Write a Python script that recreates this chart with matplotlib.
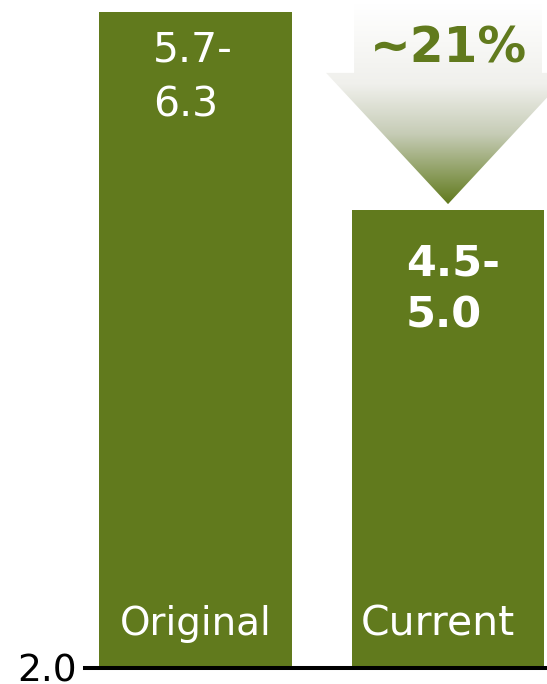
import numpy as np
import matplotlib
matplotlib.use("Agg")
import matplotlib.pyplot as plt
from matplotlib.patches import Polygon
from matplotlib.colors import LinearSegmentedColormap

# Data
categories = ["Original", "Current"]
range_low = [5.7, 4.5]
range_high = [6.3, 5.0]
baseline = 2.0
change_label = "~21%"

green = "#617a1d"
plt.rcParams["font.family"] = ["DejaVu Sans"]

fig = plt.figure(figsize=(5.47, 6.84), dpi=100)
ax = fig.add_axes([85 / 547, 16 / 684, 462 / 547, 668 / 684])

x = np.arange(len(categories))
bar_w = 0.764
ax.bar(x, np.array(range_high) - baseline, bottom=baseline, width=bar_w,
       color=green, zorder=2)

# range labels inside the bars
for i in range(len(categories)):
    txt = f"{range_low[i]:.1f}-\n{range_high[i]:.1f}"
    bold = i == 1
    ax.text(x[i] + (0.02 if bold else -0.01), range_high[i] - (0.21 if bold else 0.12), txt,
            ha="center", va="top", multialignment="left", color="white",
            fontsize=31 if bold else 29.5,
            fontweight="bold" if bold else "normal",
            linespacing=1.32 if bold else 1.5, zorder=4)
    ax.text(x[i] - (0.04 if i == 1 else 0), baseline + 0.216, categories[i],
            ha="center", va="baseline", color="white",
            fontsize=28 if i == 0 else 29.5, zorder=4)

# gradient arrow above the current bar
cx = x[1]
tip_y = range_high[1] + 0.04
head_y = range_high[1] + 0.90
shaft_top = range_high[1] + 1.35
head_hw = 0.483
shaft_hw = 0.372
arrow = Polygon([(cx - shaft_hw, shaft_top), (cx + shaft_hw, shaft_top),
                 (cx + shaft_hw, head_y), (cx + head_hw, head_y),
                 (cx, tip_y), (cx - head_hw, head_y), (cx - shaft_hw, head_y)],
                closed=True, facecolor="none", edgecolor="none",
                transform=ax.transData)
ax.add_patch(arrow)
cmap = LinearSegmentedColormap.from_list(
    "fade", [(0, "#ffffff"), (0.4, "#f0f0ec"), (0.65, "#c6ccb6"), (1, green)])
grad = np.linspace(0, 1, 256).reshape(-1, 1)
im = ax.imshow(grad, cmap=cmap, aspect="auto", origin="upper",
               extent=[cx - head_hw, cx + head_hw, tip_y, shaft_top], zorder=3)
im.set_clip_path(arrow)

ax.text(cx, range_high[1] + 1.06, change_label, ha="center", va="center",
        color=green, fontsize=35, fontweight="bold", zorder=5)

ax.set_xlim(-0.4376, 1.392)
ax.set_ylim(baseline, baseline + 668 / 152.6)

for s in ["top", "right", "left"]:
    ax.spines[s].set_visible(False)
ax.spines["bottom"].set_linewidth(2.9)
ax.spines["bottom"].set_zorder(5)
ax.set_xticks([])
ax.set_yticks([baseline])
ax.set_yticklabels([f"{baseline:.1f}"], fontsize=27)
ax.tick_params(axis="y", length=0, pad=6)
ax.patch.set_alpha(0)

fig.savefig("out.png", dpi=100)
